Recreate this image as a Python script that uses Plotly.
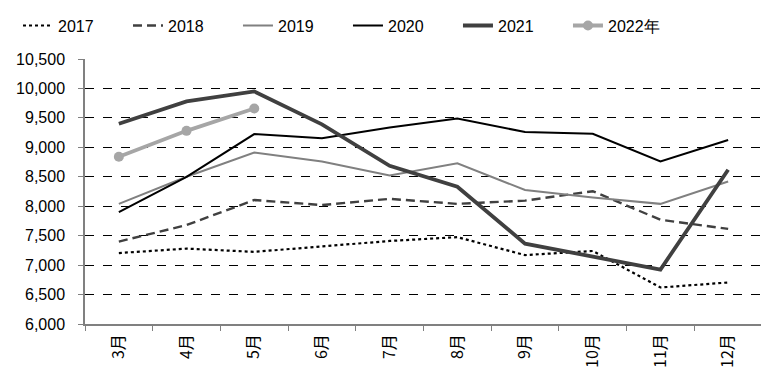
import plotly.graph_objects as go

months = ["3月", "4月", "5月", "6月", "7月", "8月", "9月", "10月", "11月", "12月"]
y2017 = [7205, 7280, 7225, 7315, 7410, 7475, 7170, 7240, 6620, 6705]
y2018 = [7400, 7680, 8105, 8020, 8125, 8040, 8095, 8255, 7770, 7615]
y2019 = [8040, 8500, 8910, 8760, 8520, 8730, 8275, 8150, 8040, 8420]
y2020 = [7900, 8500, 9225, 9155, 9335, 9490, 9260, 9230, 8760, 9125]
y2021 = [9400, 9780, 9950, 9390, 8685, 8330, 7365, 7150, 6925, 8620]
y2022 = [8840, 9280, 9660]
names = ["2017", "2018", "2019", "2020", "2021", "2022年"]

fig = go.Figure()
fig.add_trace(go.Scatter(x=months, y=y2017, name=names[0], mode="lines",
                         line=dict(color="#000000", width=2.2, dash="dot")))
fig.add_trace(go.Scatter(x=months, y=y2018, name=names[1], mode="lines",
                         line=dict(color="#404040", width=2.4, dash="9px,5px")))
fig.add_trace(go.Scatter(x=months, y=y2019, name=names[2], mode="lines",
                         line=dict(color="#808080", width=2)))
fig.add_trace(go.Scatter(x=months, y=y2020, name=names[3], mode="lines",
                         line=dict(color="#000000", width=2)))
fig.add_trace(go.Scatter(x=months, y=y2021, name=names[4], mode="lines",
                         line=dict(color="#404040", width=3.8)))
fig.add_trace(go.Scatter(x=months[:len(y2022)], y=y2022, name=names[5], mode="lines+markers",
                         line=dict(color="#a6a6a6", width=3.8),
                         marker=dict(color="#a6a6a6", size=10)))

fig.update_layout(
    width=769, height=380,
    margin=dict(l=77, r=15, t=51, b=64, autoexpand=False),
    paper_bgcolor="white", plot_bgcolor="white",
    font=dict(family="Liberation Sans, Arial, sans-serif", color="#000000", size=16),
    legend=dict(orientation="h", x=-0.099, xanchor="left", y=1.126, yanchor="middle",
                entrywidth=65, entrywidthmode="pixels", font=dict(size=16),
                itemwidth=30, tracegroupgap=0, bgcolor="rgba(0,0,0,0)"),
    showlegend=True,
)
fig.update_xaxes(
    type="category", tickangle=-90, tickson="boundaries", range=[-0.5, 9.5],
    ticks="outside", ticklen=5, tickcolor="#808080", ticklabelstandoff=2,
    showline=True, linecolor="#808080", linewidth=1.5,
    showgrid=False, tickfont=dict(size=16, family="Noto Sans CJK SC, sans-serif"),
)
fig.update_yaxes(
    range=[6000, 10500], tickvals=list(range(6000, 10501, 500)),
    tickformat=",d", ticks="outside", ticklen=5, tickcolor="#808080",
    ticklabelstandoff=10,
    showline=True, linecolor="#808080", linewidth=1.5,
    showgrid=True, gridcolor="#000000", griddash="dash", gridwidth=1,
    tickfont=dict(size=16), zeroline=False,
)

fig.write_html("out.html")
